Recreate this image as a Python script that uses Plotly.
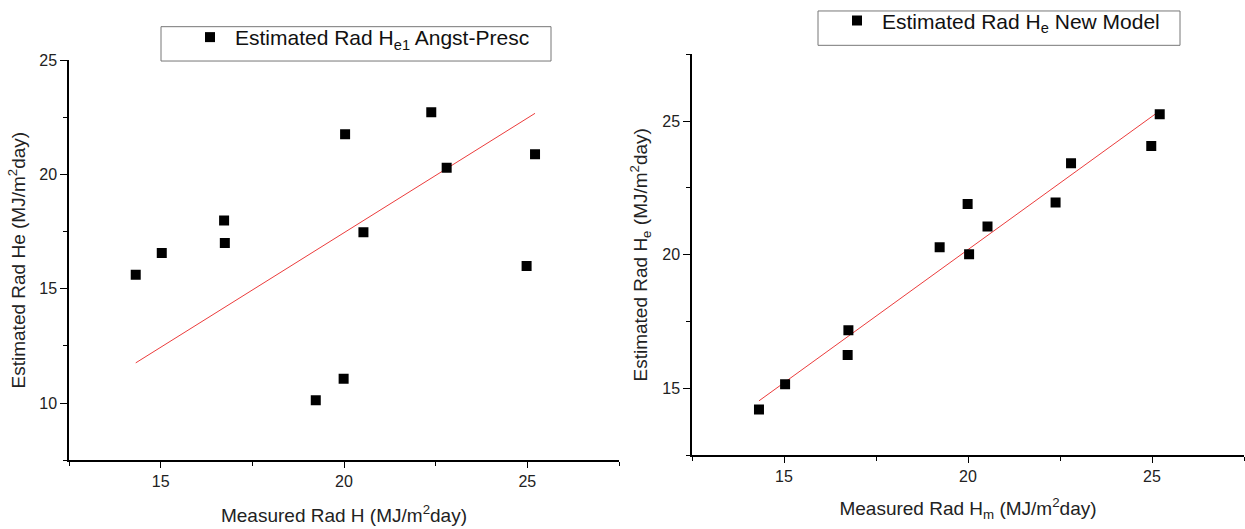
import plotly.graph_objects as go
from plotly.subplots import make_subplots

# Measured radiation (MJ/m^2 day)
measured = [14.32, 15.03, 16.73, 16.75, 19.23, 19.99, 20.03, 20.53, 22.38, 22.80, 24.98, 25.21]
# Estimated by Angstrom-Prescott (left panel)
est_angst = [15.61, 16.56, 17.98, 17.00, 10.13, 11.07, 21.76, 17.47, 22.72, 20.29, 16.00, 20.88]
# Estimated by new model (right panel)
est_new = [14.22, 15.16, 16.25, 17.18, 20.28, 21.90, 20.02, 21.06, 21.95, 23.42, 24.07, 25.25]

# Red fit lines (end points)
fit_x = [14.32, 25.21]
fit_angst_y = [11.76, 22.67]
fit_new_y = [14.54, 25.38]

W, H = 1245, 529
FONT = "Arial, Liberation Sans, sans-serif"

fig = make_subplots(rows=1, cols=2)

fig.add_trace(go.Scatter(x=fit_x, y=fit_angst_y, mode="lines",
                         line=dict(color="rgb(235,60,60)", width=1),
                         showlegend=False, hoverinfo="skip"), row=1, col=1)
fig.add_trace(go.Scatter(x=measured, y=est_angst, mode="markers",
                         marker=dict(symbol="square", size=10, color="black"),
                         name="Estimated Rad H<sub>e1</sub> Angst-Presc",
                         legend="legend"), row=1, col=1)

fig.add_trace(go.Scatter(x=fit_x, y=fit_new_y, mode="lines",
                         line=dict(color="rgb(235,60,60)", width=1),
                         showlegend=False, hoverinfo="skip"), row=1, col=2)
fig.add_trace(go.Scatter(x=measured, y=est_new, mode="markers",
                         marker=dict(symbol="square", size=10, color="black"),
                         name="Estimated Rad H<sub>e</sub> New Model",
                         legend="legend2"), row=1, col=2)

def px_x(p):
    return p / W

def px_y(p):
    return 1 - p / H

axis_common = dict(
    showline=True, linecolor="black", linewidth=1.5, mirror=False,
    showgrid=False, zeroline=False, ticks="outside", tickcolor="black",
    tickwidth=1.2, tickfont=dict(family=FONT, size=16, color="#222"),
    dtick=5, automargin=False,
)

fig.update_xaxes(**axis_common, ticklen=6,
                 minor=dict(dtick=2.5, ticks="outside", ticklen=4, tickcolor="black", tickwidth=1.2))
fig.update_yaxes(**axis_common, ticklen=7,
                 minor=dict(dtick=2.5, ticks="outside", ticklen=4, tickcolor="black", tickwidth=1.2))

title_font = dict(family=FONT, size=19, color="#222")
legend_font = dict(family=FONT, size=21, color="#111")

fig.update_layout(
    xaxis=dict(domain=[px_x(69), px_x(619)], range=[12.5, 27.5], tick0=0,
               title=dict(text="Measured Rad H (MJ/m<sup>2</sup>day)",
                          font=title_font, standoff=19)),
    yaxis=dict(domain=[px_y(459), px_y(51)], range=[7.5, 25], tick0=0,
               title=dict(text="Estimated Rad He (MJ/m<sup>2</sup>day)",
                          font=title_font, standoff=9)),
    xaxis2=dict(domain=[px_x(692), px_x(1244)], range=[12.5, 27.5], tick0=0,
                title=dict(text="Measured Rad H<sub>m</sub> (MJ/m<sup>2</sup>day)",
                           font=title_font, standoff=17)),
    yaxis2=dict(domain=[px_y(454), px_y(45)], range=[12.5, 27.5], tick0=0,
                title=dict(text="Estimated Rad H<sub>e</sub> (MJ/m<sup>2</sup>day)",
                           font=title_font, standoff=10)),
    legend=dict(x=px_x(185), y=px_y(28), xanchor="left", yanchor="middle",
                bgcolor="rgba(0,0,0,0)", borderwidth=0, itemwidth=40,
                font=legend_font),
    legend2=dict(x=px_x(832), y=px_y(11), xanchor="left", yanchor="middle",
                 bgcolor="rgba(0,0,0,0)", borderwidth=0, itemwidth=40,
                 font=legend_font),
    shapes=[
        dict(type="rect", xref="paper", yref="paper",
             x0=px_x(161), x1=px_x(551), y0=px_y(52), y1=px_y(17),
             line=dict(color="#777", width=1), fillcolor="rgba(0,0,0,0)"),
        dict(type="rect", xref="paper", yref="paper",
             x0=px_x(818), x1=px_x(1180), y0=px_y(36), y1=px_y(1),
             line=dict(color="#777", width=1), fillcolor="rgba(0,0,0,0)"),
    ],
    width=W, height=H,
    margin=dict(l=0, r=0, t=0, b=0),
    plot_bgcolor="white", paper_bgcolor="white",
    font=dict(family=FONT, color="#222"),
)

fig.write_html("out.html", config={"displayModeBar": False},
               post_script="document.body.style.margin='0';document.body.style.overflow='hidden';")
